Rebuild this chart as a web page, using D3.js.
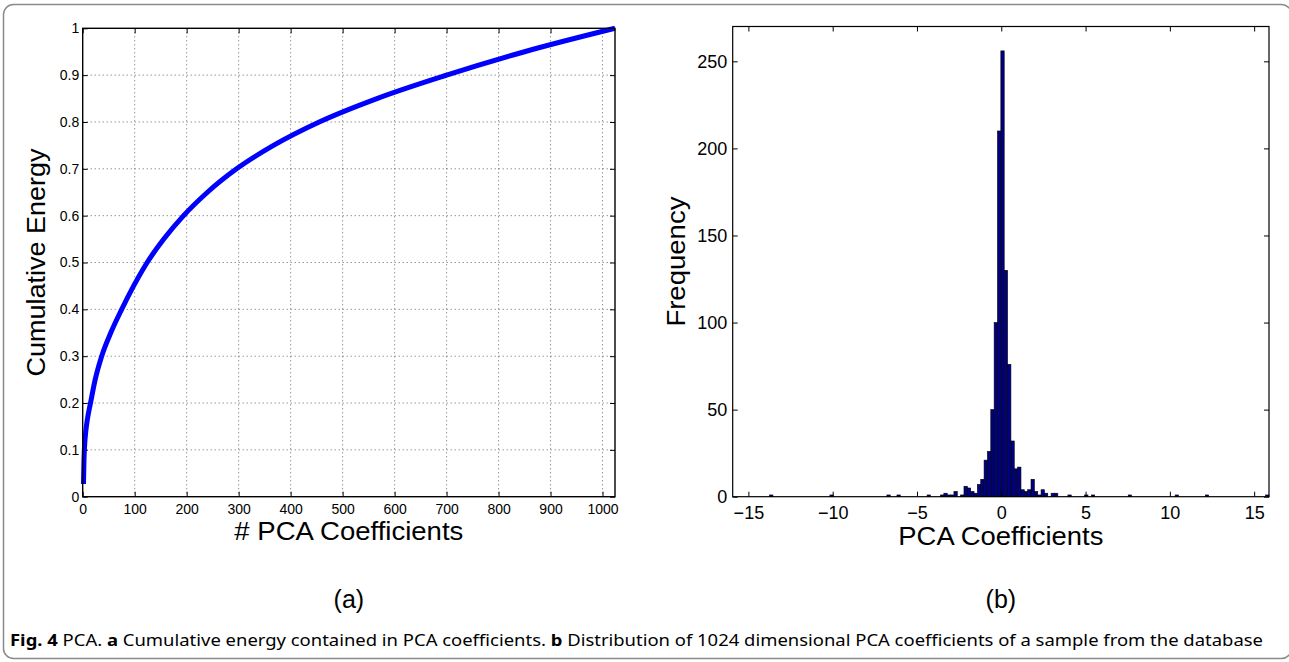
<!DOCTYPE html>
<html>
<head>
<meta charset="utf-8">
<script src="https://cdn.jsdelivr.net/npm/d3@7"></script>
<style>
  html, body { margin: 0; padding: 0; background: #fff; }
  svg { display: block; }
  text { font-family: "Liberation Sans", Arial, Helvetica, sans-serif; fill: #000; }
</style>
</head>
<body>
<svg id="fig" width="1289" height="662"></svg>
<script>
// ---------------- DATA ----------------
// (a) cumulative energy vs number of PCA coefficients
const energyN   = [1.5, 2.5, 4, 6, 9, 15, 24, 36.5, 54, 75, 98, 124, 156, 194, 240, 296, 367, 455, 566, 700, 850, 1024];
const energyVal = [0.027, 0.08, 0.115, 0.14, 0.165, 0.20, 0.25, 0.30, 0.35, 0.40, 0.45, 0.50, 0.55, 0.60, 0.65, 0.70, 0.75, 0.80, 0.85, 0.90, 0.95, 1.0];
const energyXTicks = [0, 100, 200, 300, 400, 500, 600, 700, 800, 900, 1000];
const energyYTicks = [0, 0.1, 0.2, 0.3, 0.4, 0.5, 0.6, 0.7, 0.8, 0.9, 1];
const energyXDomain = [0, 1024];
const energyYDomain = [0, 1];

// (b) histogram of PCA coefficients (160 bins over the data range)
const histRange = [-15.93, 15.88];
const histBins = 160;
const histBinIndex = [11, 29, 46, 49, 58,
  62, 63, 64, 65, 66, 68, 69, 70, 71, 72, 73, 74,
  75, 76, 77, 78, 79, 80, 81, 82, 83, 84, 85,
  86, 87, 88, 89, 90, 91, 92, 93, 95, 96, 100,
  105, 107, 118, 132, 141, 159];
const histCount = [1, 1, 1, 1, 1,
  1, 2, 1, 1, 3, 1, 6, 5, 3, 2, 7, 10,
  21, 26, 50, 100, 210, 256, 130, 76, 32, 16, 17,
  4, 3, 4, 10, 3, 1, 4, 2, 2, 2, 1,
  1, 1, 1, 1, 1, 1];
const histXTicks = [-15, -10, -5, 0, 5, 10, 15];
const histYTicks = [0, 50, 100, 150, 200, 250];
const histYDomain = [0, 270];

const captionParts = [
  {t: "Fig. 4", b: true}, {t: " PCA. ", b: false}, {t: "a", b: true},
  {t: " Cumulative energy contained in PCA coefficients. ", b: false}, {t: "b", b: true},
  {t: " Distribution of 1024 dimensional PCA coefficients of a sample from the database", b: false}
];

// ---------------- DRAW ----------------
const svg = d3.select("#fig");
svg.append("rect").attr("width", 1289).attr("height", 662).attr("fill", "#fff");

// outer rounded frame
svg.append("rect")
  .attr("x", 3.5).attr("y", 4.5).attr("width", 1288).attr("height", 654)
  .attr("rx", 10).attr("ry", 10)
  .attr("fill", "none").attr("stroke", "#8a8a8a").attr("stroke-width", 1.5);

// ===== Panel (a) =====
const A = {l: 82.7, r: 615, t: 28.3, b: 496.7};
const xA = d3.scaleLinear().domain(energyXDomain).range([A.l, A.r]);
const yA = d3.scaleLinear().domain(energyYDomain).range([A.b, A.t]);
const gA = svg.append("g");

// grid
gA.append("g").selectAll("line").data(energyXTicks.filter(d => d > 0)).join("line")
  .attr("x1", d => xA(d)).attr("x2", d => xA(d)).attr("y1", A.t).attr("y2", A.b)
  .attr("stroke", "#555").attr("stroke-width", 0.9).attr("stroke-dasharray", "1,3");
gA.append("g").selectAll("line").data(energyYTicks.filter(d => d > 0 && d < 1)).join("line")
  .attr("x1", A.l).attr("x2", A.r).attr("y1", d => yA(d)).attr("y2", d => yA(d))
  .attr("stroke", "#555").attr("stroke-width", 0.9).attr("stroke-dasharray", "1,3");

function styleAxis(g, fs) {
  g.select(".domain").remove();
  g.selectAll(".tick line").attr("stroke", "#000").attr("stroke-width", 1);
  g.selectAll(".tick text").style("font-size", fs + "px").attr("fill", "#000");
}

gA.append("g").attr("transform", `translate(0,${A.b})`)
  .call(d3.axisBottom(xA).tickValues(energyXTicks).tickFormat(d3.format("d")).tickSize(-5).tickPadding(7.4))
  .call(g => styleAxis(g, 14));
gA.append("g").attr("transform", `translate(0,${A.t})`)
  .call(d3.axisTop(xA).tickValues(energyXTicks).tickFormat("").tickSize(-5))
  .call(g => styleAxis(g, 14));
gA.append("g").attr("transform", `translate(${A.l},0)`)
  .call(d3.axisLeft(yA).tickValues(energyYTicks).tickFormat(d => d3.format("")(d)).tickSize(-5).tickPadding(3.5))
  .call(g => styleAxis(g, 14));
gA.append("g").attr("transform", `translate(${A.r},0)`)
  .call(d3.axisRight(yA).tickValues(energyYTicks).tickFormat("").tickSize(-5))
  .call(g => styleAxis(g, 14));

// curve
gA.append("path")
  .datum(energyN.map((n, i) => [n, energyVal[i]]))
  .attr("d", d3.line().x(d => xA(d[0])).y(d => yA(d[1])).curve(d3.curveMonotoneX))
  .attr("fill", "none").attr("stroke", "#0000ff").attr("stroke-width", 5).attr("stroke-linecap", "butt")
  .attr("stroke-linejoin", "round");

// frame
gA.append("rect").attr("x", A.l).attr("y", A.t).attr("width", A.r - A.l).attr("height", A.b - A.t)
  .attr("fill", "none").attr("stroke", "#000").attr("stroke-width", 1.4);

gA.append("text").attr("x", (A.l + A.r) / 2).attr("y", 540).attr("text-anchor", "middle")
  .attr("textLength", 229).attr("lengthAdjust", "spacingAndGlyphs")
  .style("font-size", "25.5px").text("# PCA Coefficients");
gA.append("text").attr("transform", `translate(45,${(A.t + A.b) / 2}) rotate(-90)`)
  .attr("text-anchor", "middle").attr("textLength", 228).attr("lengthAdjust", "spacingAndGlyphs")
  .style("font-size", "25.5px").text("Cumulative Energy");

// ===== Panel (b) =====
const B = {l: 732.7, r: 1269, t: 26.5, b: 496.7};
const xB = d3.scaleLinear().domain(histRange).range([B.l, B.r]);
const yB = d3.scaleLinear().domain(histYDomain).range([B.b, B.t]);
const gB = svg.append("g");
const binW = (histRange[1] - histRange[0]) / histBins;

gB.append("g").selectAll("rect").data(histBinIndex.map((k, i) => ({k, c: histCount[i]}))).join("rect")
  .attr("x", d => xB(histRange[0] + d.k * binW))
  .attr("width", d => xB(histRange[0] + (d.k + 1) * binW) - xB(histRange[0] + d.k * binW))
  .attr("y", d => yB(d.c))
  .attr("height", d => yB(0) - yB(d.c))
  .attr("fill", "#000080").attr("stroke", "#000").attr("stroke-width", 0.6);

gB.append("g").attr("transform", `translate(0,${B.b})`)
  .call(d3.axisBottom(xB).tickValues(histXTicks).tickFormat(d3.format("d")).tickSize(-5).tickPadding(9.8))
  .call(g => styleAxis(g, 18));
gB.append("g").attr("transform", `translate(0,${B.t})`)
  .call(d3.axisTop(xB).tickValues(histXTicks).tickFormat("").tickSize(-5))
  .call(g => styleAxis(g, 18));
gB.append("g").attr("transform", `translate(${B.l},0)`)
  .call(d3.axisLeft(yB).tickValues(histYTicks).tickFormat(d3.format("d")).tickSize(-5).tickPadding(5.5))
  .call(g => styleAxis(g, 18));
gB.append("g").attr("transform", `translate(${B.r},0)`)
  .call(d3.axisRight(yB).tickValues(histYTicks).tickFormat("").tickSize(-5))
  .call(g => styleAxis(g, 18));

gB.append("rect").attr("x", B.l).attr("y", B.t).attr("width", B.r - B.l).attr("height", B.b - B.t)
  .attr("fill", "none").attr("stroke", "#000").attr("stroke-width", 1.2);

gB.append("text").attr("x", (B.l + B.r) / 2).attr("y", 545).attr("text-anchor", "middle")
  .attr("textLength", 205).attr("lengthAdjust", "spacingAndGlyphs")
  .style("font-size", "25.5px").text("PCA Coefficients");
gB.append("text").attr("transform", `translate(685,${(B.t + B.b) / 2}) rotate(-90)`)
  .attr("text-anchor", "middle").attr("textLength", 130).attr("lengthAdjust", "spacingAndGlyphs")
  .style("font-size", "25.5px").text("Frequency");

// panel letters
svg.append("text").attr("x", (A.l + A.r) / 2).attr("y", 608).attr("text-anchor", "middle")
  .style("font-size", "25px").text("(a)");
svg.append("text").attr("x", (B.l + B.r) / 2).attr("y", 608).attr("text-anchor", "middle")
  .style("font-size", "25px").text("(b)");

// caption
const cap = svg.append("text").attr("x", 10).attr("y", 646)
  .attr("textLength", 1253).attr("lengthAdjust", "spacingAndGlyphs")
  .style("font-family", "'Noto Sans', 'Open Sans', sans-serif").style("font-size", "16px");
cap.selectAll("tspan").data(captionParts).join("tspan")
  .style("font-weight", d => d.b ? "bold" : "normal")
  .text(d => d.t);
</script>
</body>
</html>
